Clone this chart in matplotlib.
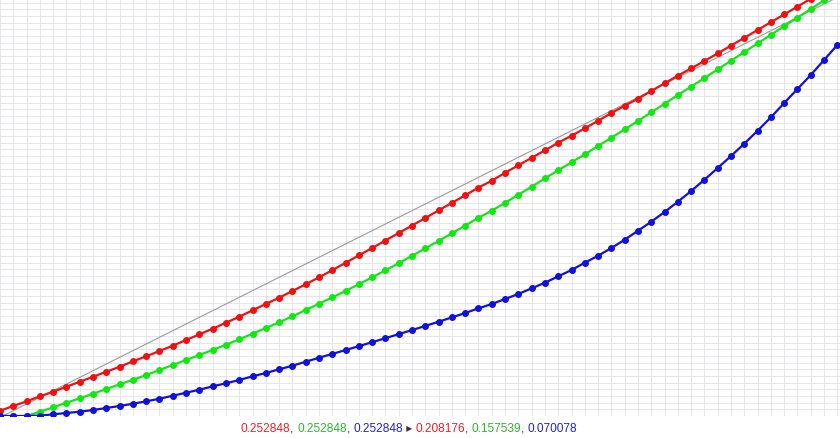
import matplotlib
matplotlib.use("Agg")
import matplotlib.pyplot as plt
import numpy as np

# sample index along x (one marker per vertical grid line)
steps = list(range(64))

red_vals = [0.79, 1.50, 2.20, 2.95, 3.64, 4.39, 5.14, 5.89, 6.64, 7.39,
            8.20, 8.95, 9.75, 10.54, 11.40, 12.25, 13.09, 13.99, 14.89, 15.85,
            16.80, 17.74, 18.75, 19.75, 20.80, 21.88, 22.98, 24.09, 25.20, 26.32,
            27.45, 28.57, 29.70, 30.84, 31.98, 33.10, 34.27, 35.29, 36.49, 37.60,
            38.74, 39.85, 40.99, 42.04, 43.15, 44.29, 45.45, 46.54, 47.59, 48.75,
            49.90, 51.04, 52.15, 53.25, 54.39, 55.56, 56.73, 57.90, 59.07, 60.24,
            61.41, 62.58, 63.75, 64.92]

green_vals = [0.0, 0.0, 0.0, 0.64, 1.30, 2.00, 2.65, 3.34, 4.05, 4.75,
              5.44, 6.15, 6.90, 7.65, 8.40, 9.15, 9.90, 10.69, 11.50, 12.34,
              13.20, 14.05, 14.95, 15.90, 16.84, 17.79, 18.76, 19.77, 20.80, 21.85,
              22.93, 24.03, 25.14, 26.26, 27.40, 28.56, 29.74, 30.79, 31.99, 33.19,
              34.39, 35.65, 36.85, 38.05, 39.25, 40.50, 41.74, 43.00, 44.25, 45.55,
              46.84, 48.15, 49.39, 50.70, 52.00, 53.29, 54.60, 55.89, 57.18, 58.47,
              59.76, 61.05, 62.34, 63.63]

blue_vals = [0.0, 0.0, 0.0, 0.05, 0.25, 0.45, 0.64, 0.90, 1.20, 1.50,
             1.84, 2.20, 2.59, 3.04, 3.49, 3.94, 4.45, 4.90, 5.40, 5.95,
             6.45, 7.00, 7.54, 8.14, 8.74, 9.31, 9.89, 10.48, 11.07, 11.67,
             12.28, 12.89, 13.51, 14.14, 14.79, 15.45, 16.15, 16.80, 17.55, 18.30,
             19.15, 19.99, 20.95, 21.90, 22.99, 24.04, 25.20, 26.44, 27.79, 29.14,
             30.60, 32.14, 33.75, 35.44, 37.20, 39.00, 40.85, 42.79, 44.80, 46.95,
             49.05, 51.15, 53.40, 55.65]

# diagonal reference line (two end points)
diag_x = [0.2, 63.2]
diag_y = [0.0, 63.0]

# caption below the plot: (text, colour)
caption = [("0.252848", "#e8202a"), (", ", "#333333"),
           ("0.252848", "#2fb52f"), (", ", "#333333"),
           ("0.252848", "#2323c8"), (" \u25b8 ", "#333333"),
           ("0.208176", "#e8202a"), (", ", "#333333"),
           ("0.157539", "#2fb52f"), (", ", "#333333"),
           ("0.070078", "#2323c8")]

fig = plt.figure(figsize=(8.4, 4.38), dpi=100)
ax = fig.add_axes([0, 22 / 438, 1, 416 / 438])
ax.set_xlim(0, 63.2)
ax.set_ylim(0, 62.4)

ax.set_xticks(np.arange(0, 64, 1))
ax.set_yticks(np.arange(0, 63, 1))
ax.grid(True, color="#e2e2e6", linewidth=0.6)
ax.tick_params(length=0, labelbottom=False, labelleft=False)
for s in ax.spines.values():
    s.set_visible(False)
ax.set_axisbelow(True)

ax.plot(diag_x, diag_y, color="#9a9a9a", linewidth=0.8)
ax.plot(steps, red_vals, color="#ee1111", linewidth=1.6, marker="o", markersize=4)
ax.plot(steps, green_vals, color="#11e811", linewidth=1.6, marker="o", markersize=4)
ax.plot(steps, blue_vals, color="#1111d8", linewidth=1.6, marker="o", markersize=4)

# lay out the coloured caption pieces one after another
fig.canvas.draw()
renderer = fig.canvas.get_renderer()
pieces = []
total = 0
for txt, col in caption:
    t = fig.text(0, 9 / 438, txt, color=col, fontsize=8.6,
                 family=["Liberation Sans", "DejaVu Sans"], va="center", ha="left")
    w = t.get_window_extent(renderer).width
    pieces.append((t, w))
    total += w
x = 409 - total / 2
for t, w in pieces:
    t.set_x(x / 840)
    x += w

fig.savefig("out.png", dpi=100)
